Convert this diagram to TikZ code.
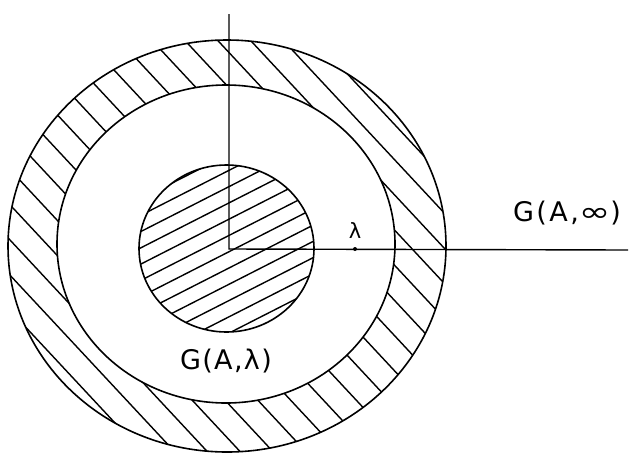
\documentclass[tikz,border=0pt]{standalone}
\usepackage{fontspec}
\newfontfamily\hand[LetterSpace=5]{DejaVu Sans}
\newfontfamily\handwide[LetterSpace=9]{DejaVu Sans}
\begin{document}
\begin{tikzpicture}[x=1pt,y=-1pt,
  ring/.style={line width=1.6pt},
  hatch/.style={line width=1.4pt},
  axis/.style={line width=1.4pt},
  lbl/.style={font=\hand\fontsize{27}{30}\selectfont, inner sep=0pt},
  lblwide/.style={font=\handwide\fontsize{27}{30}\selectfont, inner sep=0pt},
  small/.style={font=\hand\fontsize{21}{24}\selectfont, inner sep=0pt}]
\useasboundingbox (0,0) rectangle (631,453);
\coordinate (C) at (227,246);
\coordinate (M) at (226,244);
\coordinate (I) at (226.5,248.5);
\coordinate (O) at (229,249);
\coordinate (T) at (229,14);
\coordinate (E) at (628,250);
\coordinate (L) at (355,249);
% hatching of the outer ring
\begin{scope}
  \clip (C) ellipse [x radius=219, y radius=206];
  \begin{scope}[shift={(C)}, rotate=-47]
    \foreach \k in {-10,...,10}
      \draw[hatch] (-300,\k*24+10.6) -- (300,\k*24+10.6);
  \end{scope}
\end{scope}
\fill[white] (M) ellipse [x radius=169, y radius=159];
% hatching of the inner disc
\begin{scope}
  \clip (I) ellipse [x radius=87.5, y radius=83.5];
  \begin{scope}[shift={(I)}, rotate=27]
    \foreach \k in {-7,...,7}
      \draw[hatch] (-120,\k*14.5+4) -- (120,\k*14.5+4);
  \end{scope}
\end{scope}
% circles
\draw[ring] (C) ellipse [x radius=219, y radius=206];
\draw[ring] (M) ellipse [x radius=169, y radius=159];
\draw[ring] (I) ellipse [x radius=87.5, y radius=83.5];
% axes
\draw[axis] (T) -- (O) -- (E);
\fill (L) circle [radius=2];
\node[small] (lam) at (355,231) {λ};
\node[lblwide] (ginf) at (567,213) {G(A,\scalebox{1.4}[1]{∞})};
\node[lbl] (glam) at (226,361) {G(A,λ)};
\end{tikzpicture}
\end{document}
